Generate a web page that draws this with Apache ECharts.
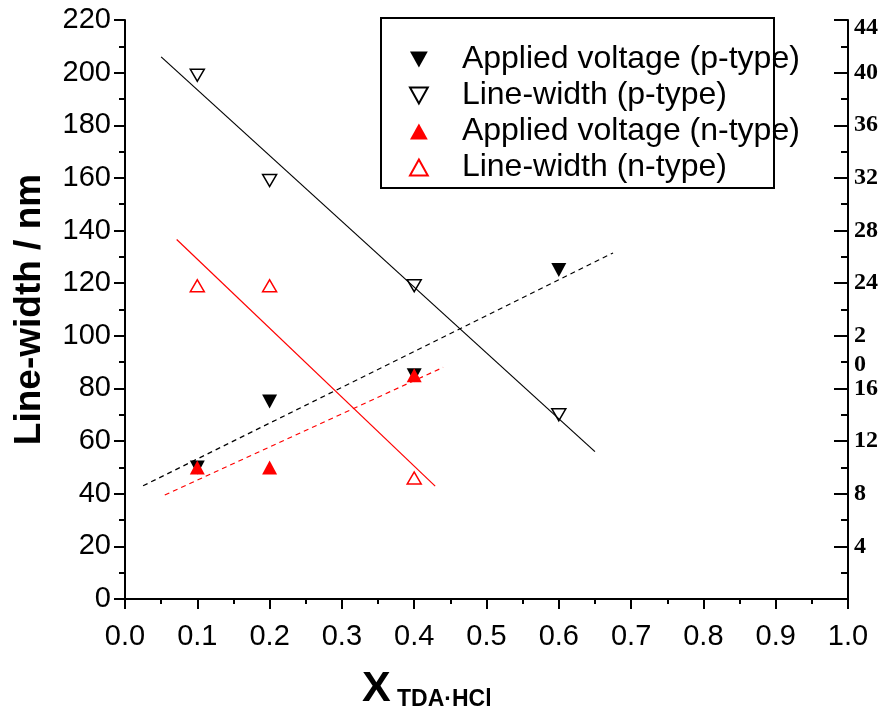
<!DOCTYPE html>
<html>
<head>
<meta charset="utf-8">
<script src="https://cdn.jsdelivr.net/npm/echarts@6/dist/echarts.min.js"></script>
<style>
  html, body { margin: 0; padding: 0; background: #fff; }
  #myChart { width: 881px; height: 724px; }
</style>
</head>
<body>
<div id="myChart"></div>
<script>
// mole fraction of TDA·HCl
var xValues = [0.1, 0.2, 0.4, 0.6];
var xValuesN = [0.1, 0.2, 0.4];

// p-type: applied voltage (V, right axis) and line-width (nm, left axis)
var voltageP = [10, 15, 17, 25];
var widthP = [199, 159, 119, 70];
// n-type
var voltageN = [10, 10, 17];
var widthN = [119, 119, 46];

// fitted lines, end points
var fitWidthP = [[0.05, 206], [0.65, 56]];
var fitVoltageP = [[0.025, 8.6], [0.675, 26.3]];
var fitWidthN = [[0.0715, 136.6], [0.429, 42.9]];
var fitVoltageN = [[0.055, 7.9], [0.44, 17.6]];

var legendNames = [
  "Applied voltage (p-type)",
  "Line-width (p-type)",
  "Applied voltage (n-type)",
  "Line-width (n-type)"
];

function pairs(xs, ys) {
  return xs.map(function (x, i) { return [x, ys[i]]; });
}

var downTri = "path://M0,0 L10,0 L5,9 Z";
var upTri = "path://M5,0 L10,9 L0,9 Z";

var myChart = echarts.init(document.getElementById("myChart"));
var option = {
  animation: false,
  backgroundColor: "#fff",
  grid: { left: 125, right: 33, top: 20, bottom: 125 },
  legend: {
    data: legendNames,
    orient: "vertical",
    left: 404,
    top: 37,
    itemWidth: 18,
    itemHeight: 16,
    itemGap: 1,
    textStyle: {
      fontFamily: "Liberation Sans",
      fontSize: 32,
      lineHeight: 35,
      color: "#000",
      padding: [0, 0, 0, 29]
    }
  },
  graphic: [
    {
      type: "rect",
      shape: { x: 381, y: 18, width: 393, height: 170 },
      style: { fill: "none", stroke: "#000", lineWidth: 2 },
      z: 1
    },
    {
      type: "text",
      left: 362,
      top: 668,
      style: {
        text: "{x|X}{s| TDA·HCl}",
        rich: {
          x: { fontFamily: "Liberation Sans", fontWeight: "bold", fontSize: 43, fill: "#000", verticalAlign: "bottom" },
          s: { fontFamily: "Liberation Sans", fontWeight: "bold", fontSize: 23, fill: "#000", padding: [26, 0, 0, 0] }
        }
      }
    }
  ],
  xAxis: {
    type: "value",
    min: 0,
    max: 1,
    interval: 0.1,
    axisLine: { onZero: false, lineStyle: { color: "#000", width: 2 } },
    axisTick: { length: 10, lineStyle: { color: "#000", width: 2 } },
    minorTick: { show: true, splitNumber: 2, length: 5, lineStyle: { color: "#000", width: 2 } },
    splitLine: { show: false },
    axisLabel: {
      margin: 23,
      color: "#000",
      fontFamily: "Liberation Sans",
      fontSize: 29,
      formatter: function (v) { return v.toFixed(1); }
    }
  },
  yAxis: [
    {
      type: "value",
      min: 0,
      max: 220,
      interval: 20,
      name: "Line-width / nm",
      nameLocation: "middle",
      nameGap: 77,
      nameTextStyle: { fontFamily: "Liberation Sans", fontWeight: "bold", fontSize: 37, color: "#000" },
      axisLine: { show: true, lineStyle: { color: "#000", width: 2 } },
      axisTick: { length: 11, lineStyle: { color: "#000", width: 2 } },
      minorTick: { show: true, splitNumber: 2, length: 6, lineStyle: { color: "#000", width: 2 } },
      splitLine: { show: false },
      axisLabel: { margin: 14, color: "#000", fontFamily: "Liberation Sans", fontSize: 29 }
    },
    {
      type: "value",
      min: 0,
      max: 44,
      interval: 4,
      position: "right",
      axisLine: { show: true, lineStyle: { color: "#000", width: 2 } },
      axisTick: { inside: true, length: 14, lineStyle: { color: "#000", width: 2 } },
      minorTick: { show: true, splitNumber: 2, length: 7, lineStyle: { color: "#000", width: 2 } },
      splitLine: { show: false },
      axisLabel: {
        margin: 6,
        color: "#000",
        fontFamily: "Liberation Serif",
        fontWeight: "bold",
        fontSize: 24,
        lineHeight: 29,
        showMinLabel: false,
        formatter: function (v) {
          if (v === 20) return " \n2\n0";
          if (v === 44) return "{t|44}";
          return String(v);
        },
        rich: {
          t: { fontFamily: "Liberation Serif", fontWeight: "bold", fontSize: 24, color: "#000", padding: [16, 0, 0, 0] }
        }
      }
    }
  ],
  series: [
    {
      name: "fit p voltage",
      type: "line",
      yAxisIndex: 1,
      data: fitVoltageP,
      showSymbol: false,
      silent: true,
      lineStyle: { color: "#000", width: 1.2, type: [5, 4] }
    },
    {
      name: "fit p width",
      type: "line",
      data: fitWidthP,
      showSymbol: false,
      silent: true,
      lineStyle: { color: "#000", width: 1.2 }
    },
    {
      name: "fit n width",
      type: "line",
      data: fitWidthN,
      showSymbol: false,
      silent: true,
      lineStyle: { color: "#ff0000", width: 1.2 }
    },
    {
      name: "fit n voltage",
      type: "line",
      yAxisIndex: 1,
      data: fitVoltageN,
      showSymbol: false,
      silent: true,
      lineStyle: { color: "#ff0000", width: 1.2, type: [5, 4] }
    },
    {
      name: legendNames[0],
      type: "scatter",
      yAxisIndex: 1,
      data: pairs(xValues, voltageP),
      symbol: downTri,
      symbolSize: [15, 14],
      itemStyle: { color: "#000", opacity: 1 }
    },
    {
      name: legendNames[1],
      type: "scatter",
      data: pairs(xValues, widthP),
      symbol: downTri,
      symbolSize: [14, 12],
      itemStyle: { color: "#fff", borderColor: "#000", borderWidth: 1.5, opacity: 1 }
    },
    {
      name: legendNames[2],
      type: "scatter",
      yAxisIndex: 1,
      data: pairs(xValuesN, voltageN),
      symbol: upTri,
      symbolSize: [15, 14],
      itemStyle: { color: "#ff0000", opacity: 1 }
    },
    {
      name: legendNames[3],
      type: "scatter",
      data: pairs(xValuesN, widthN),
      symbol: upTri,
      symbolSize: [14, 12],
      itemStyle: { color: "#fff", borderColor: "#ff0000", borderWidth: 1.5, opacity: 1 }
    }
  ]
};
myChart.setOption(option);
</script>
</body>
</html>
